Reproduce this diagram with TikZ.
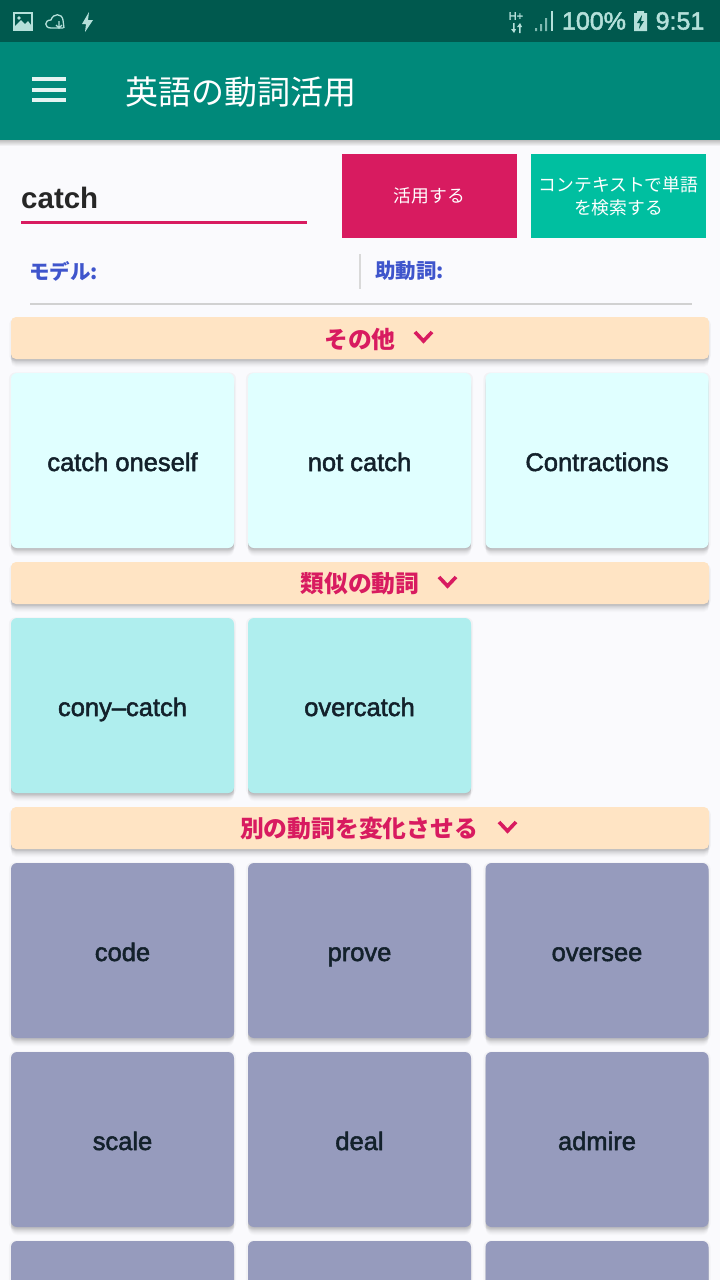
\documentclass[tikz,border=0pt]{standalone}
\usepackage{xcolor}
\usepackage{fontspec}
\setmainfont{Liberation Sans}
\newfontfamily\cardfont[FakeBold=2]{Liberation Sans}
\newfontfamily\jpfont{Noto Sans CJK JP}
\usetikzlibrary{shadows}
\definecolor{statusbar}{HTML}{00594E}
\definecolor{toolbar}{HTML}{00897A}
\definecolor{page}{HTML}{FAFAFD}
\definecolor{crimson}{HTML}{D81B60}
\definecolor{seagreen}{HTML}{00BFA0}
\definecolor{modelblue}{HTML}{3F55CC}
\definecolor{bandpeach}{HTML}{FFE4C4}
\definecolor{lightcard}{HTML}{E0FFFF}
\definecolor{tealcard}{HTML}{AFEEEE}
\definecolor{slatecard}{HTML}{969BBD}
\definecolor{cardtext}{HTML}{13212B}
\definecolor{statustext}{HTML}{B5E0DA}
\tikzset{
  softshadow/.style={
    general shadow={shadow xshift=0pt,shadow yshift=-8pt,opacity=.015,fill=black},
    general shadow={shadow xshift=0pt,shadow yshift=-7pt,opacity=.02,fill=black},
    general shadow={shadow xshift=0pt,shadow yshift=-6pt,opacity=.025,fill=black},
    general shadow={shadow xshift=0pt,shadow yshift=-5pt,opacity=.03,fill=black},
    general shadow={shadow xshift=0pt,shadow yshift=-4pt,opacity=.03,fill=black},
    general shadow={shadow xshift=0pt,shadow yshift=-3pt,opacity=.035,fill=black},
    general shadow={shadow xshift=0pt,shadow yshift=-2pt,opacity=.035,fill=black},
    general shadow={shadow xshift=0pt,shadow yshift=-1pt,opacity=.04,fill=black}},
  card/.style={rounded corners=6pt,minimum width=223pt,minimum height=175pt,inner sep=0pt,general shadow={shadow xshift=0pt,shadow yshift=-1pt,shadow scale=1.018,opacity=.03,fill=black},softshadow,text=cardtext,text height=23pt,text depth=2pt,font=\cardfont\fontsize{25.5}{30}\selectfont},
  lightbox/.style={card,fill=lightcard},
  tealbox/.style={card,fill=tealcard},
  slatebox/.style={card,fill=slatecard},
  band/.style={rounded corners=5pt,fill=bandpeach,minimum width=698pt,minimum height=42pt,inner sep=0pt,general shadow={shadow xshift=0pt,shadow yshift=-2pt,shadow scale=1.005,opacity=.03,fill=black},softshadow},
  bandtext/.style={text=crimson,inner sep=0pt,font=\jpfont\bfseries\fontsize{23.8}{28}\selectfont},
  chevron/.style={draw=crimson,line width=3.6pt},
  button/.style={minimum width=175pt,minimum height=84pt,inner sep=0pt,text=white,align=center,font=\jpfont\fontsize{17.8}{23}\selectfont},
  modeltext/.style={text=modelblue,inner sep=0pt,anchor=west,font=\jpfont\bfseries\fontsize{20.5}{24}\selectfont},
  statuslabel/.style={text=statustext,inner sep=0pt,font=\cardfont\fontsize{25}{30}\selectfont},
  statusicon/.style={draw=statustext,line width=1.3pt}
}
\begin{document}
\begin{tikzpicture}[x=1pt,y=-1pt]
  \clip (0,0) rectangle (720,1280);
  \fill[page] (0,0) rectangle (720,1280);

  % status bar and title bar
  \shade[top color=black!25,bottom color=page] (0,140) rectangle (720,146);
  \fill[toolbar] (0,42) rectangle (720,140);
  \fill[statusbar] (0,0) rectangle (720,42);

  % left status icons
  \fill[statustext] (13,12) rectangle (33,31);
  \fill[statusbar] (15,14) rectangle (31,26);
  \fill[statustext] (15,26) -- (21,20) -- (25,24) -- (28,21) -- (31,25) -- (31,27) -- (15,27) -- cycle;
  \fill[statustext] (19,18) circle (1.8);
  \draw[statusicon] (63,28) -- (51,28) .. controls (44,28) and (44,20) .. (51,20) .. controls (53,13) and (62,13) .. (63,20) -- (64,28);
  \draw[statusicon] (59,21) -- (59,27) (56,25) -- (59,28) -- (62,25);
  \fill[statustext] (89,12) -- (82,24) -- (86,24) -- (85,32) -- (93,20) -- (88,20) -- cycle;

  % right status icons
  \node (hplus) at (516,16) [text=statustext,inner sep=0pt,font=\cardfont\fontsize{11}{12}\selectfont] {H+};
  \fill[statustext] (513,23) -- (513,29) -- (511,29) -- (514,33) -- (516,29) -- (514.5,29) -- (514.5,23) -- cycle;
  \fill[statustext] (519,33) -- (519,27) -- (517,27) -- (520,23) -- (522,27) -- (520.5,27) -- (520.5,33) -- cycle;
  \fill[statustext!70!statusbar] (535,31) rectangle (537,28) (540,31) rectangle (542,24) (545,31) rectangle (547,18);
  \fill[statustext] (551,31) rectangle (553,11);
  \node (percent) at (594,21) [statuslabel] {100\%};
  \fill[statustext] (634,13) rectangle (647,31) (637,11) rectangle (644,13);
  \fill[statusbar] (642,15) -- (637,23) -- (640,23) -- (639,29) -- (644,21) -- (641,21) -- cycle;
  \node (clock) at (680,21) [statuslabel] {9:51};

  % title bar content
  \draw[white!90!toolbar,line width=3.6pt] (32,79) -- (66,79) (32,90) -- (66,90) (32,100) -- (66,100);
  \node (title) at (241,92) [text=white,inner sep=0pt,font=\jpfont\fontsize{33}{40}\selectfont] {英語の動詞活用};

  % search row
  \node (verb) at (21,198) [anchor=west,inner sep=0pt,text=black!85,font=\bfseries\fontsize{29.5}{36}\selectfont] {catch};
  \draw[crimson,line width=3pt] (21,222) -- (307,222);
  \node (conjugate) at (429.5,196) [button,fill=crimson] {活用する};
  \node (context) at (618.5,196) [button,minimum width=175pt,fill=seagreen] {コンテキストで単語\\を検索する};

  % model row
  \node (model) at (29,271) [modeltext] {モデル:};
  \node (aux) at (375,271) [modeltext] {助動詞:};
  \draw[black!15,line width=1.2pt] (360,254) -- (360,289);
  \draw[black!18,line width=1.5pt] (30,304) -- (692,304);

  % section bands
  \node (other) at (360,338) [band] {};
  \node (othertext) at (360,339) [bandtext] {その他};
  \draw[chevron] (415,332) -- (423.5,341) -- (432,332);
  \node (similar) at (360,583) [band] {};
  \node (similartext) at (360,584) [bandtext] {類似の動詞};
  \draw[chevron] (439,577) -- (447.5,586) -- (456,577);
  \node (conjug) at (360,828) [band] {};
  \node (conjugtext) at (359,829) [bandtext] {別の動詞を変化させる};
  \draw[chevron] (499,822) -- (507.5,831) -- (516,822);

  % cards
  \node (oneself) at (122.5,460.5) [lightbox] {catch oneself};
  \node (negative) at (359.5,460.5) [lightbox] {not catch};
  \node (contract) at (597,460.5) [lightbox] {Contractions};

  \node (cony) at (122.5,705.5) [tealbox] {cony–catch};
  \node (over) at (359.5,705.5) [tealbox] {overcatch};

  \node (code) at (122.5,950.5) [slatebox] {code};
  \node (prove) at (359.5,950.5) [slatebox] {prove};
  \node (oversee) at (597,950.5) [slatebox] {oversee};

  \node (scale) at (122.5,1139.5) [slatebox] {scale};
  \node (deal) at (359.5,1139.5) [slatebox] {deal};
  \node (admire) at (597,1139.5) [slatebox] {admire};

  \node (next1) at (122.5,1328.5) [slatebox] {};
  \node (next2) at (359.5,1328.5) [slatebox] {};
  \node (next3) at (597,1328.5) [slatebox] {};
\end{tikzpicture}
\end{document}
